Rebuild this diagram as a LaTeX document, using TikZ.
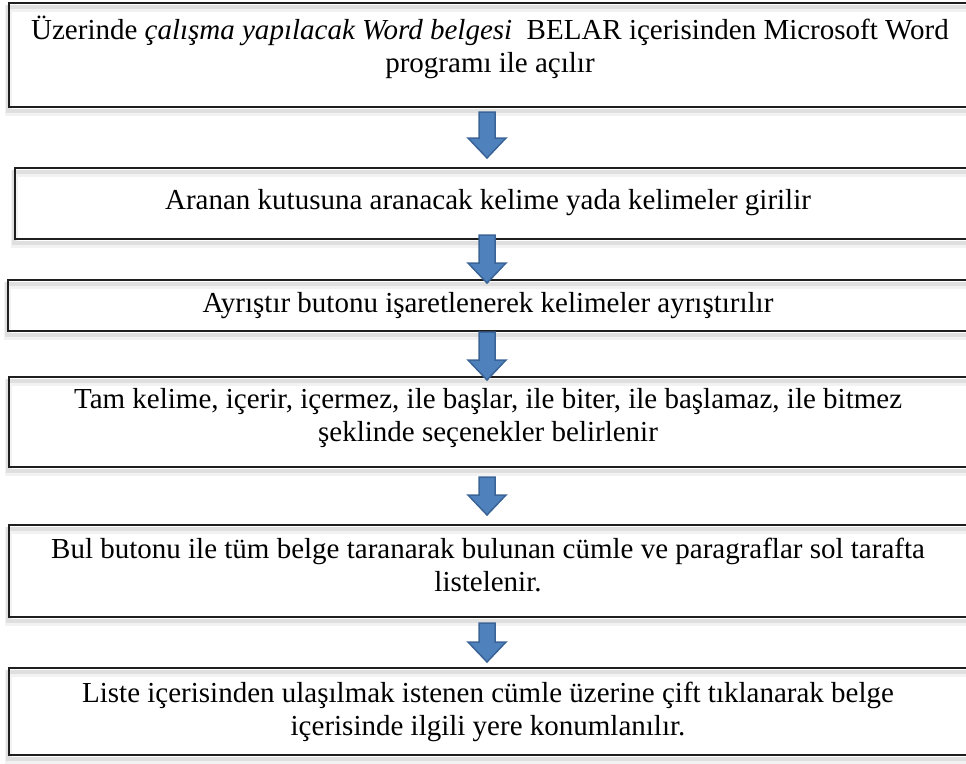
\documentclass[tikz,border=0pt]{standalone}
\usepackage{fontspec}
\setmainfont{Liberation Serif}
\usetikzlibrary{calc}
\pgfdeclarelayer{bg}
\pgfsetlayers{bg,main}
\definecolor{arrowfill}{HTML}{4F81BD}
\definecolor{arrowdraw}{HTML}{3A6497}
\tikzset{
  box/.style={draw=black!88, line width=2.2pt, rectangle, inner sep=0pt, outer sep=0pt, anchor=north west},
  shadowwide/.style={draw=black, opacity=0.05, line width=7pt},
  shadownarrow/.style={draw=black, opacity=0.08, line width=3.5pt},
  txt/.style={font=\fontsize{29}{33}\selectfont, align=center, inner sep=0pt, anchor=base},
  barrow/.style={fill=arrowfill, draw=arrowdraw, line width=1.5pt, line join=miter}
}
\newcommand\flowarrow[2]{%
  \draw[barrow] ($(#1)+(-8,0)$) -- ($(#1)+(8,0)$) -- ($(#2)+(8,-20)$) -- ($(#2)+(19,-20)$) -- (#2) -- ($(#2)+(-19,-20)$) -- ($(#2)+(-8,-20)$) -- cycle;}
\newcommand\boxshadow[1]{%
  \begin{pgfonlayer}{bg}
  \draw[shadowwide] ($(#1.north west)+(-1,5)$) rectangle ($(#1.south east)+(-1,5)$);
  \draw[shadownarrow] ($(#1.north west)+(-1,4)$) rectangle ($(#1.south east)+(-1,4)$);
  \end{pgfonlayer}}
\begin{document}
\begin{tikzpicture}[x=1pt,y=-1pt]
\useasboundingbox (0,0) rectangle (966,763);
\coordinate (ax) at (487,0);
% boxes
\node[box, minimum width=966pt, minimum height=104pt] (b1) at (9,3) {};
\node[box, minimum width=960pt, minimum height=71pt] (b2) at (15,168) {};
\node[box, minimum width=967pt, minimum height=51pt] (b3) at (8,280) {};
\node[box, minimum width=966pt, minimum height=90pt] (b4) at (9,377) {};
\node[box, minimum width=966pt, minimum height=92pt] (b5) at (9,525) {};
\node[box, minimum width=966pt, minimum height=87pt] (b6) at (9,668) {};
\boxshadow{b1}\boxshadow{b2}\boxshadow{b3}\boxshadow{b4}\boxshadow{b5}\boxshadow{b6}
% texts (anchor base = baseline of the last line)
\node[txt] (t1) at (490,72) {Üzerinde \textit{çalışma yapılacak Word belgesi}\ \ BELAR içerisinden Microsoft Word\\programı ile açılır};
\node[txt] (t2) at (488,209) {Aranan kutusuna aranacak kelime yada kelimeler girilir};
\node[txt] (t3) at (488,312) {Ayrıştır butonu işaretlenerek kelimeler ayrıştırılır};
\node[txt] (t4) at (488,441) {Tam kelime, içerir, içermez, ile başlar, ile biter, ile başlamaz, ile bitmez\\şeklinde seçenekler belirlenir};
\node[txt] (t5) at (488,591) {Bul butonu ile tüm belge taranarak bulunan cümle ve paragraflar sol tarafta\\listelenir.};
\node[txt] (t6) at (488,735) {Liste içerisinden ulaşılmak istenen cümle üzerine çift tıklanarak belge\\içerisinde ilgili yere konumlanılır.};
% arrows
\coordinate (a1s) at ($(b1.south -| ax)+(0,5)$);
\coordinate (a1e) at ($(b2.north -| ax)+(0,-10)$);
\coordinate (a2s) at ($(b2.south -| ax)+(0,-4)$);
\coordinate (a2e) at ($(b3.north -| ax)+(0,3)$);
\coordinate (a3s) at ($(b3.south -| ax)+(0,1)$);
\coordinate (a3e) at ($(b4.north -| ax)+(0,3)$);
\coordinate (a4s) at ($(b4.south -| ax)+(0,10)$);
\coordinate (a4e) at ($(b5.north -| ax)+(0,-10)$);
\coordinate (a5s) at ($(b5.south -| ax)+(0,6)$);
\coordinate (a5e) at ($(b6.north -| ax)+(0,-6)$);
\flowarrow{a1s}{a1e}
\flowarrow{a2s}{a2e}
\flowarrow{a3s}{a3e}
\flowarrow{a4s}{a4e}
\flowarrow{a5s}{a5e}
\end{tikzpicture}
\end{document}
